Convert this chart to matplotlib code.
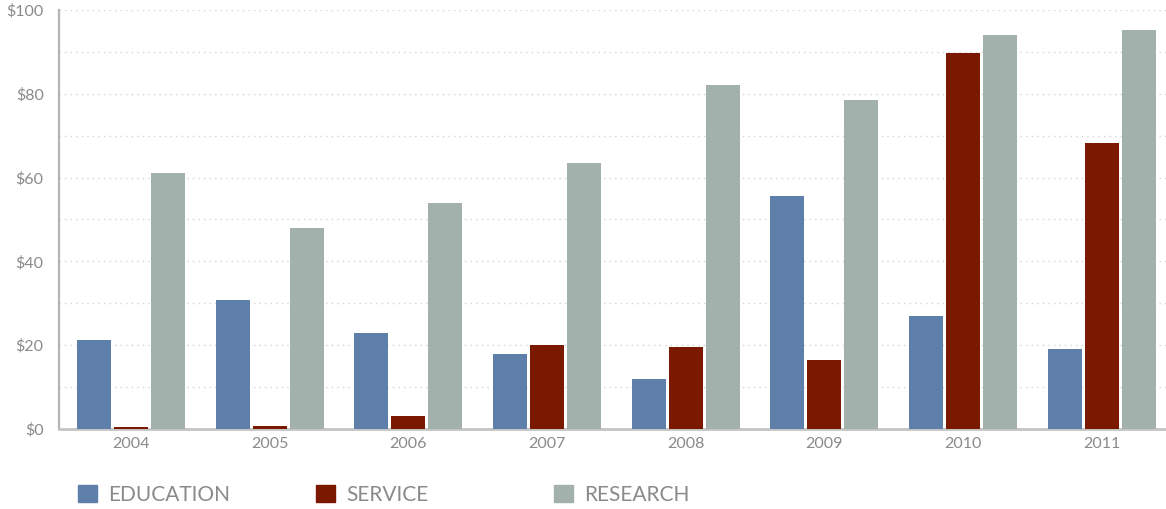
import numpy as np
import matplotlib
matplotlib.use("Agg")
import matplotlib.pyplot as plt
from matplotlib.patches import Patch

plt.rcParams['font.family'] = ['Lato', 'DejaVu Sans']

years = ['2004', '2005', '2006', '2007', '2008', '2009', '2010', '2011']
education = [21.2, 30.8, 22.9, 17.9, 11.9, 55.6, 27.0, 19.1]
service = [0.5, 0.8, 3.1, 20.0, 19.6, 16.5, 89.7, 68.3]
research = [61.1, 48.0, 53.9, 63.5, 82.1, 78.5, 94.0, 95.2]

names = ['EDUCATION', 'SERVICE', 'RESEARCH']
colors = ['#5f7fab', '#7b1800', '#a2b1ac']
txt = '#8a8a8a'

fig = plt.figure(figsize=(11.66, 5.09), dpi=100)
ax = fig.add_axes([59/1166, 80/509, 1107/1166, 419/509])

x = np.arange(len(years))
w = 0.245
step = 0.267
for i, (vals, c) in enumerate(zip([education, service, research], colors)):
    ax.bar(x + (i - 1) * step, vals, width=w, color=c, zorder=3)

ax.set_xlim(-0.519, 7.463)
ax.set_ylim(0, 100)
ax.set_yticks(np.arange(0, 101, 20))
ax.set_yticklabels(['$%d' % v for v in range(0, 101, 20)])
ax.set_yticks(np.arange(0, 101, 10), minor=True)
ax.set_xticks(x)
ax.set_xticklabels(years)
ax.grid(axis='y', which='both', color='#d4d4d4', linestyle=(0, (1, 3)), linewidth=1, zorder=0)
ax.tick_params(which='both', length=0, colors=txt, labelsize=11.5)
ax.tick_params(axis='y', pad=11)
ax.tick_params(axis='x', pad=6)
for s in ['top', 'right']:
    ax.spines[s].set_visible(False)
ax.spines['left'].set_color('#b5b5b5')
ax.spines['left'].set_linewidth(1.6)
ax.spines['bottom'].set_color('#c4c4c4')
ax.spines['bottom'].set_linewidth(2)

legend_x = [78/1166, 316/1166, 554/1166]
for name, c, lx in zip(names, colors, legend_x):
    fig.legend([Patch(color=c)], [name], loc='center left',
               bbox_to_anchor=(lx, 14/509), frameon=False,
               handlelength=0.9, handleheight=0.9, handletextpad=0.55,
               borderpad=0, borderaxespad=0,
               prop={'size': 15}, labelcolor=txt)

fig.savefig('out.png')
